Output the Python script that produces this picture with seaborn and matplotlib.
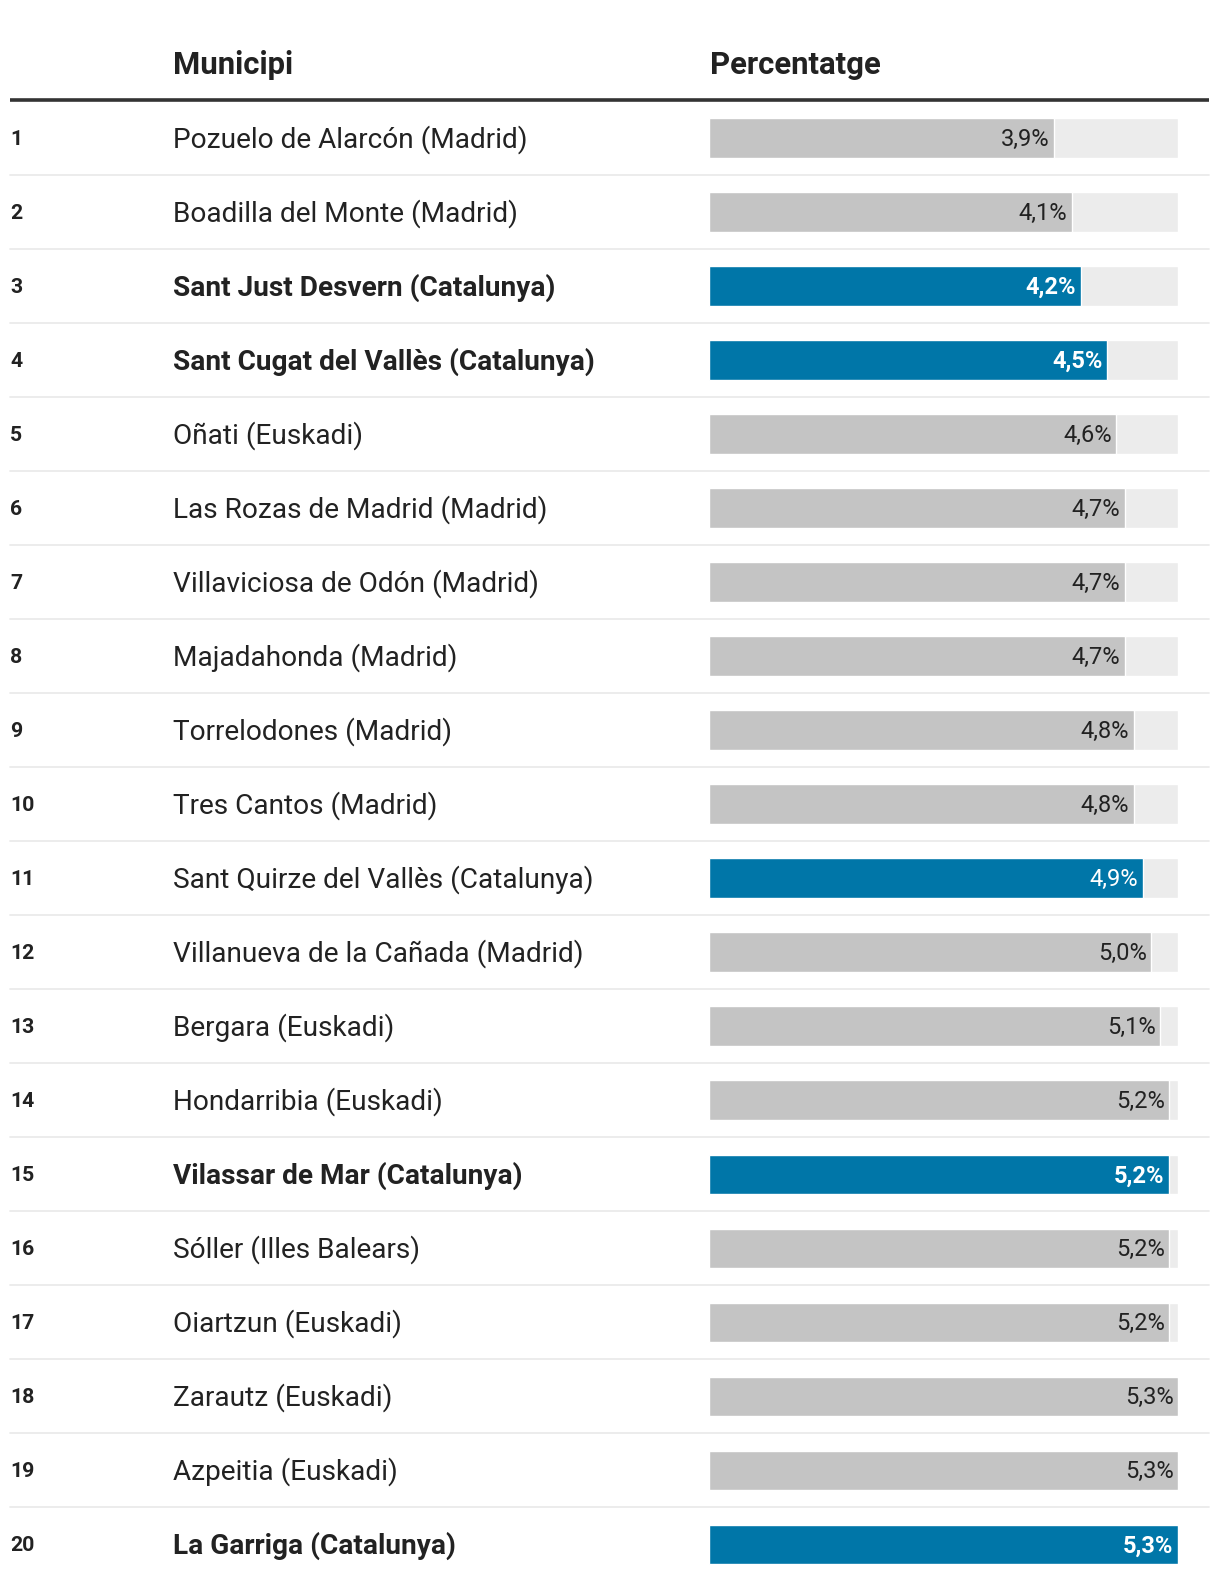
import numpy as np
import pandas as pd
import matplotlib
matplotlib.use("Agg")
import matplotlib.pyplot as plt
import matplotlib.transforms as mtransforms
import seaborn as sns

ranks = list(range(1, 21))
names = [
    "Pozuelo de Alarcón (Madrid)",
    "Boadilla del Monte (Madrid)",
    "Sant Just Desvern (Catalunya)",
    "Sant Cugat del Vallès (Catalunya)",
    "Oñati (Euskadi)",
    "Las Rozas de Madrid (Madrid)",
    "Villaviciosa de Odón (Madrid)",
    "Majadahonda (Madrid)",
    "Torrelodones (Madrid)",
    "Tres Cantos (Madrid)",
    "Sant Quirze del Vallès (Catalunya)",
    "Villanueva de la Cañada (Madrid)",
    "Bergara (Euskadi)",
    "Hondarribia (Euskadi)",
    "Vilassar de Mar (Catalunya)",
    "Sóller (Illes Balears)",
    "Oiartzun (Euskadi)",
    "Zarautz (Euskadi)",
    "Azpeitia (Euskadi)",
    "La Garriga (Catalunya)",
]
values = [3.9, 4.1, 4.2, 4.5, 4.6, 4.7, 4.7, 4.7, 4.8, 4.8,
          4.9, 5.0, 5.1, 5.2, 5.2, 5.2, 5.2, 5.3, 5.3, 5.3]
highlight = [3, 4, 11, 15, 20]   # blue bars
bold_rows = [3, 4, 15, 20]       # bold name + label

df = pd.DataFrame({"rank": [str(r) for r in ranks], "name": names, "value": values})
df["group"] = ["cat" if r in highlight else "other" for r in ranks]
df["full"] = df["value"].max()

sns.set_theme(style="white")
plt.rcParams["font.family"] = ["Roboto", "DejaVu Sans"]

W, H = 1220, 1590
fig = plt.figure(figsize=(W / 100, H / 100), dpi=100)

# bar area in pixels
x0, x1 = 709, 1178
row0, pitch = 137.9, 74.03
top = row0 - pitch / 2
bottom = row0 + 19 * pitch + pitch / 2
ax = fig.add_axes([x0 / W, 1 - bottom / H, (x1 - x0) / W, (bottom - top) / H])

sns.barplot(data=df, x="full", y="rank", color="#ececec", width=0.535,
            saturation=1, ax=ax, order=df["rank"])
sns.barplot(data=df, x="value", y="rank", hue="group", width=0.535, dodge=False,
            palette={"cat": "#0076a8", "other": "#c4c4c4"}, saturation=1,
            legend=False, ax=ax, order=df["rank"])
ax.set_xlim(0, df["value"].max())
ax.set_ylim(19.5, -0.5)
ax.set_axis_off()

tr = mtransforms.blended_transform_factory(fig.transFigure, ax.transData)
dark = "#222222"
dy = 0.02  # nudge text down a little

for i, row in df.iterrows():
    r = int(row["rank"])
    is_bold = r in bold_rows
    ax.text(10 / W, i + dy, row["rank"], transform=tr, ha="left", va="center",
            fontsize=15.3, fontweight="bold", color=dark)
    ax.text(173 / W, i + dy, row["name"], transform=tr, ha="left", va="center",
            fontsize=20.2, fontweight="bold" if is_bold else "normal", color=dark)
    label = f"{row['value']:.1f}%".replace(".", ",")
    ax.annotate(label, xy=(row["value"], i + dy), xytext=(-3.2, 0),
                textcoords="offset points", ha="right", va="center",
                fontsize=17, fontweight="bold" if is_bold else "normal",
                color="white" if r in highlight else dark)
    if i < len(df) - 1:
        ax.plot([10 / W, 1209 / W], [i + 0.5, i + 0.5], transform=tr,
                color="#ebebeb", lw=1.3, clip_on=False, zorder=0)

# header
ax.plot([10 / W, 1209 / W], [-0.51, -0.51], transform=tr, color="#333333",
        lw=2.6, clip_on=False, solid_capstyle="butt")
ax.text(173 / W, -0.98, "Municipi", transform=tr, ha="left", va="center",
        fontsize=22.4, fontweight="bold", color=dark)
ax.text(710 / W, -0.98, "Percentatge", transform=tr, ha="left", va="center",
        fontsize=22.4, fontweight="bold", color=dark)

fig.savefig("out.png", dpi=100, facecolor="white")
